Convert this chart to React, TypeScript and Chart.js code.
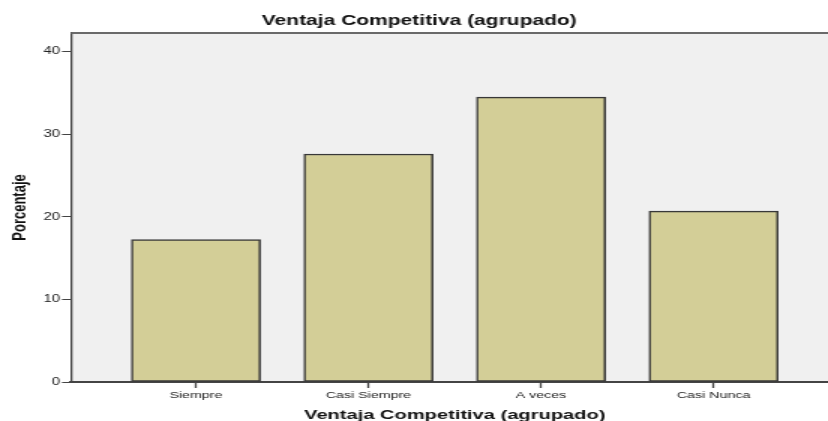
import React, { useEffect, useRef } from 'react';
import { Chart, registerables } from 'chart.js';

Chart.register(...registerables);

// ---- data ----
const categories = ['Siempre', 'Casi Siempre', 'A veces', 'Casi Nunca'];
const percentages = [17.24, 27.59, 34.48, 20.69];
const yTicks = [0, 10, 20, 30, 40];
const chartTitle = 'Ventaja Competitiva (agrupado)';
const xTitle = 'Ventaja Competitiva (agrupado)';
const yTitle = 'Porcentaje';

// ---- layout (internal canvas is stretched horizontally like the original image) ----
const STRETCH = 1.5;
const W = 559;
const H = 421;
const FONT = "'Liberation Sans', Arial, sans-serif";

const plotFrame = {
  id: 'plotFrame',
  beforeDraw(chart: any) {
    const { ctx, chartArea: a } = chart;
    ctx.save();
    ctx.fillStyle = '#f0f0f0';
    ctx.fillRect(a.left, a.top, a.right - a.left, a.bottom - a.top);
    ctx.restore();
  },
  afterDraw(chart: any) {
    const { ctx, chartArea: a } = chart;
    ctx.save();
    ctx.strokeStyle = '#6a6a6a';
    ctx.lineWidth = 2;
    ctx.beginPath();
    ctx.moveTo(a.left, a.top);
    ctx.lineTo(a.right, a.top);
    ctx.stroke();
    ctx.restore();
  },
};

export default function App() {
  const ref = useRef<HTMLCanvasElement | null>(null);

  useEffect(() => {
    if (!ref.current) return;
    const chart = new Chart(ref.current, {
      type: 'bar',
      data: {
        datasets: [
          {
            data: percentages.map((v, i) => ({ x: i, y: v })),
            backgroundColor: '#d3ce97',
            borderColor: '#383838',
            borderWidth: 1.5,
            borderSkipped: false,
            barThickness: 86,
          } as any,
        ],
      },
      options: {
        animation: false,
        responsive: false,
        devicePixelRatio: 1,
        layout: { padding: 0 },
        plugins: {
          legend: { display: false },
          tooltip: { enabled: false },
          title: {
            display: true,
            text: chartTitle,
            color: '#111',
            font: { family: FONT, size: 14, weight: 'bold', lineHeight: 1.2 },
            padding: { top: 12.6, bottom: 3.6 },
          },
        },
        scales: {
          x: {
            type: 'linear',
            offset: false,
            min: -0.724,
            max: 3.724,
            afterBuildTicks: (s: any) => {
              s.ticks = categories.map((_, i) => ({ value: i }));
            },
            afterFit: (s: any) => {
              s.height = 39;
            },
            grid: { offset: false, drawOnChartArea: false, drawTicks: true, tickLength: 6, color: '#444', tickWidth: 1.3 },
            border: { display: true, color: '#444', width: 2 },
            ticks: {
              color: '#222',
              font: { family: FONT, size: 9.5 },
              padding: 2,
              maxRotation: 0,
              autoSkip: false,
              callback: (v: any) => categories[Math.round(Number(v))] ?? '',
            },
            title: {
              display: true,
              text: xTitle,
              color: '#111',
              font: { family: FONT, size: 13.4, weight: 'bold', lineHeight: 0.9 },
              padding: { top: 0, bottom: 0 },
            },
          },
          y: {
            min: 0,
            max: 42.24,
            afterBuildTicks: (s: any) => {
              s.ticks = yTicks.map((v) => ({ value: v }));
            },
            afterFit: (s: any) => {
              s.width = 47.33;
            },
            grid: { drawOnChartArea: false, drawTicks: true, tickLength: 6, color: '#444', tickWidth: 1 },
            border: { display: true, color: '#444', width: 1.3 },
            ticks: {
              color: '#222',
              font: { family: FONT, size: 10 },
              padding: 1.3,
            },
            title: {
              display: true,
              text: yTitle,
              color: '#111',
              font: { family: FONT, size: 13, weight: 'bold', lineHeight: 1.2 },
              padding: { top: 5.5, bottom: 0 },
            },
          },
        },
      },
      plugins: [plotFrame],
    } as any);
    return () => chart.destroy();
  }, []);

  return (
    <div
      style={{
        position: 'absolute',
        left: 0,
        top: 0,
        width: 828,
        height: 421,
        overflow: 'hidden',
        background: '#fff',
      }}
    >
      <div style={{ width: W, height: H, transform: `scaleX(${STRETCH})`, transformOrigin: '0 0' }}>
        <canvas ref={ref} width={W} height={H} />
      </div>
    </div>
  );
}
